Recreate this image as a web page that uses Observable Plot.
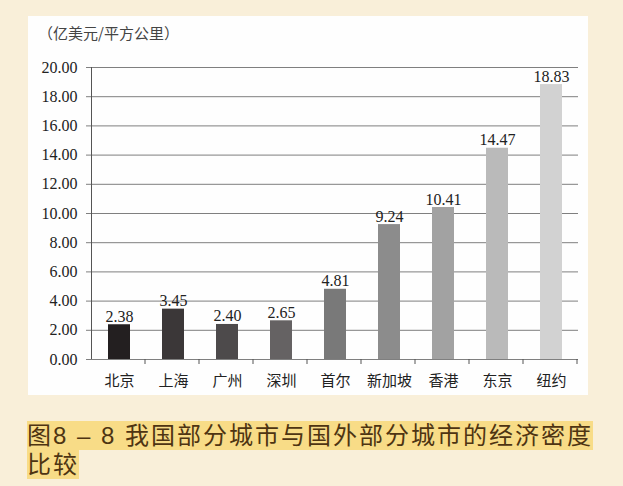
<!DOCTYPE html>
<html><head><meta charset="utf-8">
<script src="https://cdn.jsdelivr.net/npm/d3@7"></script>
<script src="https://cdn.jsdelivr.net/npm/@observablehq/plot@0.6"></script>
<style>
body{margin:0;background:#f9efd9;width:623px;height:486px;position:relative;overflow:hidden;}
#panel{position:absolute;left:28px;top:16px;width:560px;height:379px;background:#fefefe;}
#title{position:absolute;left:10px;top:6px;font:15px "Noto Sans CJK SC";color:#444;white-space:nowrap;}
#chart{position:absolute;left:0;top:30px;}
#caption{position:absolute;left:27px;top:421px;font:24px "Liberation Sans","Noto Sans CJK SC";color:#4e3412;letter-spacing:2px;line-height:29px;white-space:nowrap;}
#caption span{background:#f8dc87;display:inline-block;height:29px;line-height:29px;vertical-align:top;}
</style></head><body>
<div id="panel"><div id="title">（亿美元/平方公里）</div><div id="chart"></div></div>
<div id="caption"><span>图8 – 8 我国部分城市与国外部分城市的经济密度</span><br><span>比较</span></div>
<script>
const cities = ["北京","上海","广州","深圳","首尔","新加坡","香港","东京","纽约"];
const values = [2.38, 3.45, 2.40, 2.65, 4.81, 9.24, 10.41, 14.47, 18.83];
const barColors = ["#231f20","#3b3738","#4d4a4b","#656263","#797979","#8c8c8c","#a2a2a2","#bababa","#d2d2d2"];
const yTicks = [0,2,4,6,8,10,12,14,16,18,20];

const data = cities.map((c,i)=>({city:c, value:values[i], color:barColors[i]}));

const chart = Plot.plot({
  width: 560, height: 349,
  marginLeft: 63, marginRight: 10, marginTop: 21, marginBottom: 36,
  style: {fontFamily: "Liberation Serif", background: "transparent", color: "#222"},
  x: {domain: cities, padding: 0, label: null},
  y: {domain: [0, 20], label: null},
  marks: [
    Plot.gridY(yTicks, {stroke: "#7f7f7f", strokeOpacity: 1}),
    Plot.axisY(yTicks, {tickSize: 5, tickPadding: 9, tickFormat: d => d.toFixed(2), fontSize: 16, stroke: "#7f7f7f", strokeOpacity: 1, fill: "#222", label: null}),
    Plot.axisX({tickSize: 0, tickPadding: 16, fontSize: 15, fill: "#222", label: null}),
    Plot.barY(data, {x: "city", y: "value", fill: "color", insetLeft: 16, insetRight: 16}),
    Plot.text(data, {x: "city", y: "value", text: d => d.value.toFixed(2), lineAnchor: "bottom", dy: -3, fontSize: 16, fill: "#222"})
  ]
});
document.getElementById("chart").appendChild(chart);

// x-axis text in CJK font
d3.select(chart).selectAll("g[aria-label='x-axis tick label'] text").style("font-family", "'Noto Sans CJK SC'");

// axis line and category boundary ticks
const sx = chart.scale("x"), sy = chart.scale("y");
const x0 = Math.min(...sx.range), x1 = Math.max(...sx.range);
const step = sx.step || (x1 - x0) / cities.length;
const yb = Math.max(...sy.range), yt = Math.min(...sy.range);
const svg = d3.select(chart);
const g = svg.append("g").attr("stroke", "#555").attr("stroke-width", 1);
g.append("line").attr("x1", x0 + 0.5).attr("x2", x0 + 0.5).attr("y1", yt).attr("y2", yb);
cities.forEach((c, i) => {
  const xx = x0 + (i + 1) * step;
  g.append("line").attr("x1", xx).attr("x2", xx).attr("y1", yb).attr("y2", yb + 5);
});
</script>
</body></html>
